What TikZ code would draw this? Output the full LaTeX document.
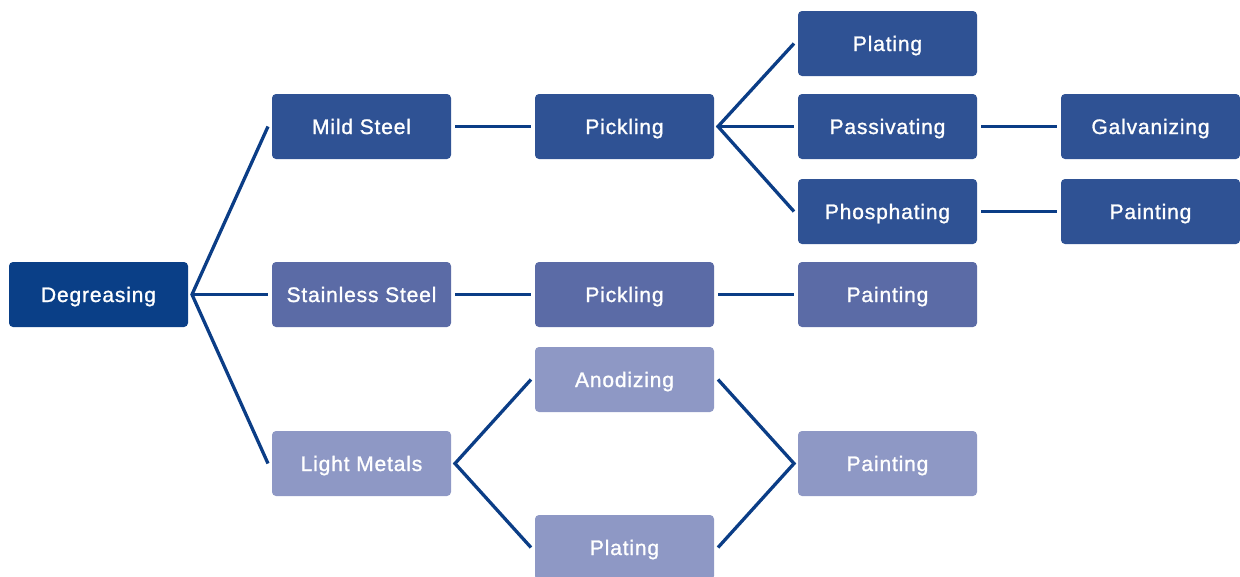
\documentclass[tikz,border=0pt]{standalone}
\usepackage{fontspec}
\setmainfont{Liberation Sans}[LetterSpace=4,FakeBold=1.2]
\definecolor{cdeg}{HTML}{0A3F87}
\definecolor{cone}{HTML}{2F5294}
\definecolor{ctwo}{HTML}{5B6BA6}
\definecolor{cthree}{HTML}{8E98C5}
\definecolor{cline}{HTML}{0B3D86}
\tikzset{
  box/.style={rectangle, rounded corners=4pt, minimum width=179pt, minimum height=65pt,
    inner sep=0pt, outer sep=4pt, text=white, text height=15pt, text depth=0pt,
    font=\fontsize{21}{24}\selectfont},
  dk/.style={box, fill=cdeg},
  b1/.style={box, fill=cone},
  b2/.style={box, fill=ctwo},
  b3/.style={box, fill=cthree},
  conn/.style={draw=cline, line width=3.3pt},
}
\begin{document}
\begin{tikzpicture}[x=1pt,y=-1pt]
\useasboundingbox (0,0) rectangle (1240,576);
\node[dk] (deg) at (98.5,294.5) {Degreasing};
\node[b1] (mild) at (361.5,126.5) {Mild Steel};
\node[b2] (stain) at (361.5,294.5) {Stainless Steel};
\node[b3] (light) at (361.5,463.5) {Light Metals};
\node[b1] (pick1) at (624.5,126.5) {Pickling};
\node[b2] (pick2) at (624.5,294.5) {Pickling};
\node[b3] (anod) at (624.5,379.5) {Anodizing};
\node[b3] (plat2) at (624.5,547.5) {Plating};
\node[b1] (plat1) at (887.5,43.5) {Plating};
\node[b1] (pass) at (887.5,126.5) {Passivating};
\node[b1] (phos) at (887.5,211.5) {Phosphating};
\node[b2] (paint2) at (887.5,294.5) {Painting};
\node[b3] (paint3) at (887.5,463.5) {Painting};
\node[b1] (galv) at (1150.5,126.5) {Galvanizing};
\node[b1] (paint1) at (1150.5,211.5) {Painting};
\draw[conn] (mild.west) -- (deg.east) -- (light.west);
\draw[conn] (deg.east) -- (stain.west);
\draw[conn] (mild.east) -- (pick1.west);
\draw[conn] (plat1.west) -- (pick1.east) -- (phos.west);
\draw[conn] (pick1.east) -- (pass.west);
\draw[conn] (pass.east) -- (galv.west);
\draw[conn] (phos.east) -- (paint1.west);
\draw[conn] (stain.east) -- (pick2.west);
\draw[conn] (pick2.east) -- (paint2.west);
\draw[conn] (anod.west) -- (light.east) -- (plat2.west);
\draw[conn] (anod.east) -- (paint3.west) -- (plat2.east);
\end{tikzpicture}
\end{document}
